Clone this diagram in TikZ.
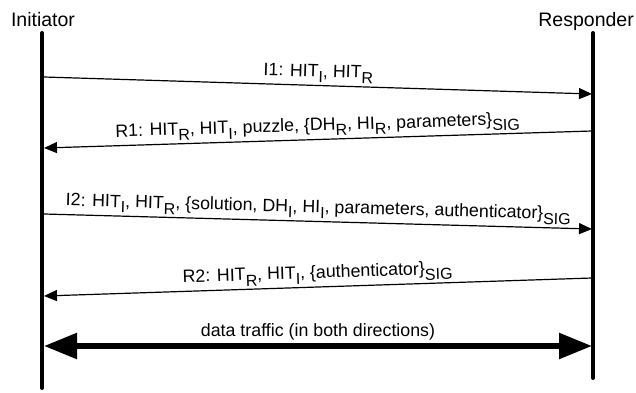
\documentclass[tikz,border=0pt]{standalone}
\usepackage{fontspec}
\setmainfont{Liberation Sans}
\usepackage{tikz}
\usetikzlibrary{arrows.meta}

\newcommand{\subi}[1]{\raisebox{-5.5pt}{\fontsize{16}{16}\selectfont #1}}

\begin{document}
\begin{tikzpicture}[x=1pt,y=1pt]
    \tikzset{Actor/.style = {font=\fontsize{19.5}{22}\selectfont,inner sep=0pt}}
    \tikzset{VidaLinea/.style = {line width=4pt,line cap=round}}
    \tikzset{Mensaje/.style = {-{Triangle[length=13pt,width=11pt]},line width=1.2pt,sloped,auto=false}}
    \tikzset{Etiqueta/.style = {font=\fontsize{17.8}{20}\selectfont,inner sep=2.5pt}}
    \tikzset{Datos/.style = {{Triangle[length=33pt,width=25pt]}-{Triangle[length=33pt,width=25pt]},line width=5.5pt}}

    \useasboundingbox (0,0) rectangle (636,392);

    \node[Actor,anchor=base] (initiator) at (43,366) {Initiator};
    \node[Actor,anchor=base east] (responder) at (634,366) {Responder};

    \coordinate (iniArriba) at (42,359);
    \coordinate (iniAbajo) at (42,4);
    \coordinate (resArriba) at (593,359);
    \coordinate (resAbajo) at (593,14);

    %Lineas de vida
    \draw [VidaLinea] (iniArriba) -- (iniAbajo);
    \draw [VidaLinea] (resArriba) -- (resAbajo);

    \coordinate (I1a) at (44,315);
    \coordinate (I1b) at (592,298);
    \coordinate (R1a) at (592,261);
    \coordinate (R1b) at (44,244);
    \coordinate (I2a) at (44,178);
    \coordinate (I2b) at (592,163);
    \coordinate (R2a) at (592,114);
    \coordinate (R2b) at (44,96);
    \coordinate (datosI) at (44,46);
    \coordinate (datosR) at (592,46);

    %Intercambio base
    \draw [Mensaje] (I1a) to node[Etiqueta,above] {I1: HIT\subi{I}, HIT\subi{R}} (I1b);
    \draw [Mensaje] (R1a) to node[Etiqueta,above] {R1: HIT\subi{R}, HIT\subi{I}, puzzle, \{DH\subi{R}, HI\subi{R}, parameters\}\subi{SIG}} (R1b);
    \draw [Mensaje] (I2a) to node[Etiqueta,above] {I2: HIT\subi{I}, HIT\subi{R}, \{solution, DH\subi{I}, HI\subi{I}, parameters, authenticator\}\subi{SIG}} (I2b);
    \draw [Mensaje] (R2a) to node[Etiqueta,above] {R2: HIT\subi{R}, HIT\subi{I}, \{authenticator\}\subi{SIG}} (R2b);

    %Trafico de datos
    \draw [Datos] (datosI) to node[Etiqueta,above=1pt] {data traffic (in both directions)} (datosR);

\end{tikzpicture}
\end{document}
